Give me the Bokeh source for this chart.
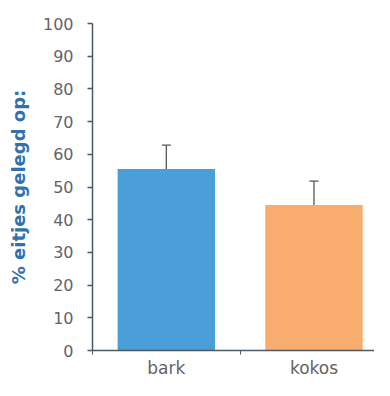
from bokeh.plotting import figure
from bokeh.models import ColumnDataSource, FixedTicker, Whisker, Range1d, TeeHead
from bokeh.embed import file_html
from bokeh.resources import INLINE

categories = ["bark", "kokos"]
values = [55.5, 44.5]
errors = [7.3, 7.3]
colors = ["#4A9FD9", "#F8AD6E"]
y_ticks = [0, 10, 20, 30, 40, 50, 60, 70, 80, 90, 100]

xpos = [0.5 + i for i in range(len(categories))]
src = ColumnDataSource(dict(
    x=xpos, top=values, color=colors,
    upper=[v + e for v, e in zip(values, errors)],
    lower=[v - e for v, e in zip(values, errors)],
))

p = figure(width=374, height=380, output_backend="svg", toolbar_location=None,
           x_range=Range1d(0, 1.91), y_range=Range1d(0, 100),
           min_border_left=92, min_border_top=23, min_border_right=0, min_border_bottom=0)
p.outline_line_color = None
p.xgrid.grid_line_color = None
p.ygrid.grid_line_color = None

p.vbar(x="x", top="top", width=0.66, color="color", line_color=None, source=src)
w = Whisker(base="x", upper="upper", lower="lower", source=src,
            line_color="#555555", line_width=1.3,
            upper_head=TeeHead(size=9, line_color="#555555", line_width=1.3),
            lower_head=TeeHead(size=9, line_color="#555555", line_width=1.3))
p.add_layout(w)

axis_color = "#4d5a63"
label_color = "#5f6468"

p.yaxis.ticker = FixedTicker(ticks=y_ticks)
p.yaxis.axis_line_color = axis_color
p.yaxis.axis_line_width = 1.5
p.yaxis.major_tick_line_color = axis_color
p.yaxis.major_tick_line_width = 1.5
p.yaxis.major_tick_out = 5
p.yaxis.major_tick_in = 0
p.yaxis.minor_tick_line_color = None
p.yaxis.major_label_text_font = "DejaVu Sans"
p.yaxis.major_label_text_font_size = "16px"
p.yaxis.major_label_text_color = label_color
p.yaxis.major_label_standoff = 14
p.yaxis.axis_label = "% eitjes gelegd op:"
p.yaxis.axis_label_text_font = "DejaVu Sans"
p.yaxis.axis_label_text_font_style = "bold"
p.yaxis.axis_label_text_font_size = "18px"
p.yaxis.axis_label_text_color = "#2F72AE"
p.yaxis.axis_label_standoff = 11

p.xaxis.ticker = FixedTicker(ticks=xpos, minor_ticks=[0, 1, 2])
p.xaxis.major_label_overrides = {x: c for x, c in zip(xpos, categories)}
p.xaxis.axis_line_color = axis_color
p.xaxis.axis_line_width = 1.5
p.xaxis.major_tick_line_color = None
p.xaxis.minor_tick_line_color = axis_color
p.xaxis.minor_tick_out = 4
p.xaxis.minor_tick_in = 0
p.xaxis.major_label_text_font = "DejaVu Sans"
p.xaxis.major_label_text_font_size = "17px"
p.xaxis.major_label_text_color = label_color
p.xaxis.major_label_standoff = 1

open("out.html", "w").write(file_html(p, INLINE))
